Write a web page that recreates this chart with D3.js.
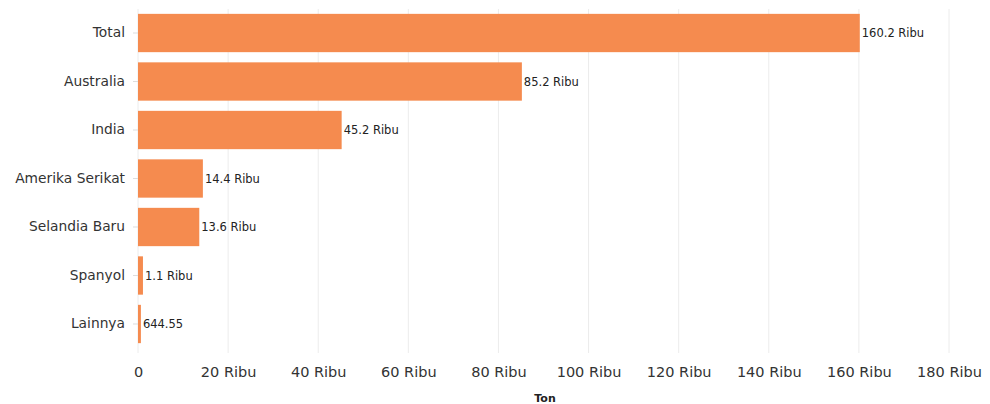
<!DOCTYPE html>
<html><head><meta charset="utf-8">
<script src="https://cdn.jsdelivr.net/npm/d3@7"></script>
<style>body{margin:0;background:#fff;font-family:Verdana,"DejaVu Sans",sans-serif;}</style>
</head><body><svg id="c" width="990" height="404"></svg>
<script>
const categories = ["Total","Australia","India","Amerika Serikat","Selandia Baru","Spanyol","Lainnya"];
const values = [160200, 85200, 45200, 14400, 13600, 1100, 644.55];
const valueLabels = ["160.2 Ribu","85.2 Ribu","45.2 Ribu","14.4 Ribu","13.6 Ribu","1.1 Ribu","644.55"];
const xTicks = [0,20000,40000,60000,80000,100000,120000,140000,160000,180000];
const xTickLabels = ["0","20 Ribu","40 Ribu","60 Ribu","80 Ribu","100 Ribu","120 Ribu","140 Ribu","160 Ribu","180 Ribu"];
const xTitle = "Ton";

const svg = d3.select("#c");
const L = 138, R = 949, T = 9, B = 348;
const x = d3.scaleLinear().domain([0,180000]).range([L,R]);
const y = d3.scaleBand().domain(categories).range([T,B]).paddingInner(0.21).paddingOuter(0.1);
const font = "Verdana, 'DejaVu Sans', sans-serif";

// grid
svg.append("g").selectAll("line").data(xTicks).join("line")
  .attr("x1",d=>x(d)).attr("x2",d=>x(d)).attr("y1",T).attr("y2",B+5)
  .attr("stroke","#ececec").attr("stroke-width",1);

// bars
svg.append("g").selectAll("rect").data(values).join("rect")
  .attr("x",x(0)).attr("y",(d,i)=>y(categories[i]))
  .attr("width",d=>x(d)-x(0)).attr("height",y.bandwidth())
  .attr("fill","#f58b4f");

// value labels
svg.append("g").selectAll("text").data(values).join("text")
  .attr("x",d=>x(d)+2).attr("y",(d,i)=>y(categories[i])+y.bandwidth()/2)
  .attr("dy","0.35em").attr("font-size",11.5).attr("font-family",font).attr("fill","#222")
  .text((d,i)=>valueLabels[i]);

// y axis
const ya = svg.append("g").attr("transform",`translate(${L},0)`)
  .call(d3.axisLeft(y).tickSize(5).tickPadding(8));
ya.select(".domain").remove();
ya.selectAll(".tick line").attr("stroke","#ddd");
ya.selectAll("text").attr("font-size",13.8).attr("font-family",font).attr("fill","#333");

// x axis
const xa = svg.append("g").attr("transform",`translate(0,${B})`)
  .call(d3.axisBottom(x).tickValues(xTicks).tickFormat((d,i)=>xTickLabels[i]).tickSize(0).tickPadding(19));
xa.select(".domain").remove();
xa.selectAll("text").attr("font-size",14.5).attr("font-family",font).attr("fill","#333");

svg.append("text").attr("x",545).attr("y",402).attr("text-anchor","middle")
  .attr("font-size",11).attr("font-weight","bold").attr("font-family",font).attr("fill","#222").text(xTitle);
</script></body></html>
